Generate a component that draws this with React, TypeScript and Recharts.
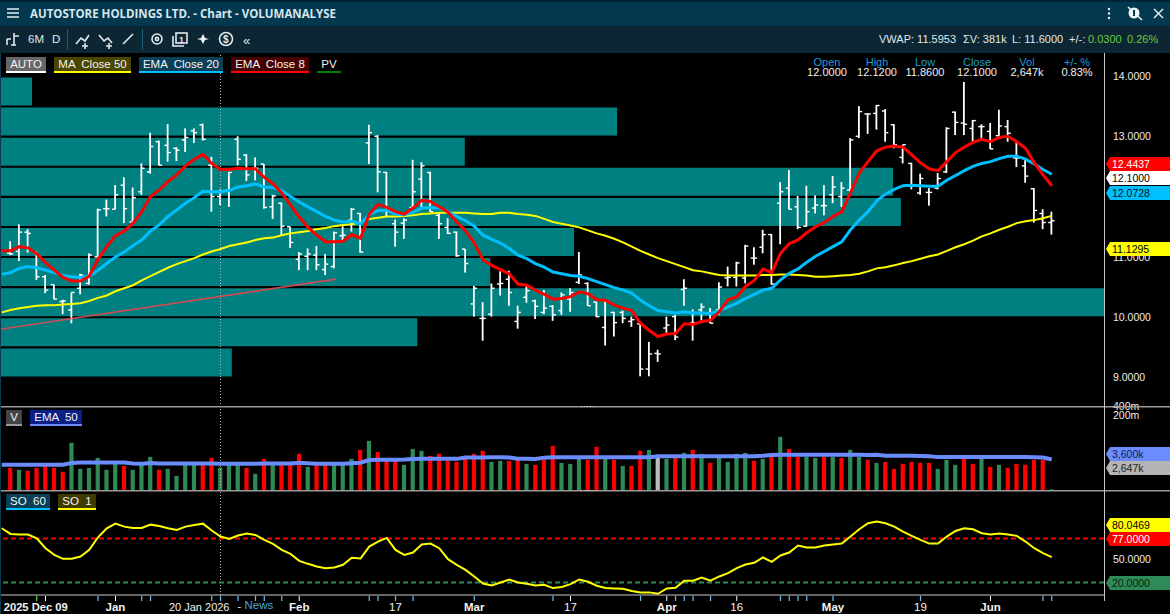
import React from "react";
import { ComposedChart, BarChart, Bar, Line, XAxis, YAxis, ReferenceLine, Cell } from "recharts";

const FONT = '"Liberation Sans", Arial, sans-serif';

const highs = [11.26,11.54,11.46,11.09,10.70,10.54,10.29,10.41,10.72,11.06,11.80,11.95,12.19,12.32,12.15,12.55,13.06,12.93,13.20,12.82,13.13,13.13,13.21,12.66,12.12,12.41,13.00,12.70,12.65,12.54,12.03,11.90,11.50,11.08,11.14,11.18,11.05,11.42,11.51,11.81,
11.73,13.19,13.02,12.41,11.62,11.64,12.61,12.57,12.41,11.72,11.64,11.42,11.13,10.52,10.25,10.56,10.76,10.77,10.19,10.51,10.29,10.45,10.20,10.41,10.48,11.08,10.58,10.26,10.30,10.09,10.11,10.01,9.90,9.59,9.46,10.01,10.04,10.63,10.13,10.23,
10.15,10.58,10.84,10.92,11.20,11.16,11.45,11.38,12.24,12.44,12.01,12.18,12.02,12.19,12.34,12.24,12.97,13.50,13.38,13.52,13.45,13.20,12.86,12.56,12.38,12.14,12.39,13.15,13.41,13.90,13.27,13.20,13.22,13.44,13.27,12.91,12.64,12.14,11.79,11.75];
const lows = [11.03,10.93,11.07,10.62,10.40,10.30,10.05,9.90,10.38,10.54,10.99,11.67,11.79,11.56,11.57,12.03,12.38,12.52,12.58,12.59,12.74,12.89,12.93,11.75,11.86,11.83,12.52,12.26,12.27,11.80,11.63,11.36,11.15,10.78,10.78,10.78,10.70,10.81,11.28,11.42,
11.07,12.54,12.07,11.67,11.17,11.30,11.81,11.81,11.75,11.30,11.38,11.00,10.74,10.01,9.61,10.01,10.36,10.19,9.81,10.24,9.97,10.05,9.94,10.04,10.09,10.55,10.19,10.00,9.53,9.68,9.90,9.84,9.02,9.02,9.26,9.74,9.62,10.19,9.61,9.90,
9.90,10.04,10.51,10.51,10.56,10.87,11.06,10.54,11.21,11.79,11.46,11.50,11.72,11.69,11.89,11.83,12.08,12.97,13.04,13.11,12.91,12.80,12.55,12.12,12.03,11.85,12.12,12.39,13.02,13.02,12.91,12.94,12.79,13.00,12.91,12.49,12.23,11.57,11.46,11.37];
const opens = [11.06,11.09,11.41,11.07,10.67,10.54,10.26,10.12,10.48,10.56,11.00,11.80,11.79,12.19,11.58,12.08,12.41,12.91,12.85,12.80,12.94,13.09,13.19,12.52,12.00,12.11,12.95,12.69,12.47,12.54,11.83,11.89,11.50,10.96,11.01,11.03,10.79,10.84,11.35,11.61,
11.72,12.89,13.00,12.40,11.55,11.56,11.82,12.29,12.40,11.69,11.49,11.41,11.13,10.22,9.98,10.05,10.55,10.63,9.93,10.33,10.27,10.08,10.18,10.11,10.30,10.58,10.56,10.25,9.83,10.08,10.08,9.93,9.89,9.14,9.40,9.82,10.01,10.46,9.90,10.12,
9.93,10.12,10.65,10.66,10.65,10.98,11.16,11.37,11.89,12.14,11.83,11.51,11.81,11.85,12.03,12.00,12.11,13.00,13.37,13.38,13.42,13.19,12.65,12.55,12.06,12.07,12.14,12.41,13.40,13.22,13.13,13.16,13.08,13.01,13.16,12.64,12.51,12.13,11.72,11.57];
const closes = [11.05,11.41,11.39,10.67,10.45,10.30,10.27,10.41,10.70,11.03,11.78,11.80,12.03,11.80,11.98,12.47,12.83,12.52,12.73,12.77,12.98,13.06,12.95,12.00,12.10,12.40,12.62,12.36,12.47,11.82,12.01,11.51,11.24,11.05,11.05,10.87,10.88,11.40,11.36,11.79,
11.08,13.06,12.41,11.81,11.41,11.61,12.08,12.51,11.75,11.55,11.39,11.02,10.89,10.48,9.98,10.48,10.56,10.41,10.08,10.44,10.18,10.15,10.04,10.37,10.41,10.70,10.19,10.01,10.26,9.91,9.98,9.96,9.14,9.39,9.39,9.87,9.67,10.48,9.91,10.17,
9.90,10.50,10.66,10.90,11.18,10.98,11.37,10.55,12.08,11.79,11.49,11.75,11.86,11.85,12.16,12.14,12.94,13.41,13.37,13.51,13.06,12.86,12.86,12.19,12.30,12.07,12.30,13.13,13.23,13.20,13.26,13.16,12.79,13.17,13.05,12.64,12.34,11.77,11.57,11.60];

// Moving averages start one session before the first visible bar
const ema8 = [11.10,11.10,11.17,11.15,11.05,10.91,10.78,10.66,10.60,10.60,10.68,10.96,11.17,11.35,11.43,11.56,11.75,12.00,12.11,12.25,12.36,12.51,12.62,12.70,12.55,12.45,12.45,12.47,12.46,12.46,12.32,12.21,12.06,11.86,11.66,11.49,11.36,11.25,11.25,11.26,11.37,
11.31,11.71,11.87,11.82,11.75,11.71,11.81,11.94,11.92,11.83,11.74,11.58,11.43,11.23,10.95,10.86,10.79,10.72,10.55,10.53,10.45,10.38,10.30,10.31,10.34,10.42,10.39,10.29,10.28,10.20,10.15,10.11,9.90,9.78,9.68,9.72,9.73,9.89,9.88,9.93,
9.95,10.09,10.29,10.34,10.51,10.61,10.80,10.74,11.06,11.22,11.28,11.40,11.50,11.57,11.67,11.75,12.06,12.39,12.58,12.76,12.82,12.84,12.82,12.69,12.56,12.46,12.43,12.58,12.73,12.82,12.90,12.95,12.91,12.98,13.00,12.91,12.80,12.56,12.36,12.18];
const ema20 = [10.71,10.74,10.81,10.84,10.82,10.78,10.74,10.69,10.67,10.66,10.68,10.78,10.89,11.00,11.08,11.19,11.28,11.43,11.53,11.67,11.78,11.89,11.98,12.09,12.08,12.08,12.10,12.16,12.18,12.21,12.16,12.15,12.10,12.00,11.91,11.83,11.75,11.67,11.61,11.58,11.59,
11.55,11.70,11.77,11.77,11.71,11.70,11.74,11.81,11.82,11.81,11.75,11.67,11.60,11.51,11.36,11.29,11.23,11.14,11.03,10.97,10.89,10.83,10.75,10.72,10.69,10.68,10.64,10.59,10.54,10.49,10.45,10.40,10.28,10.19,10.11,10.09,10.07,10.09,10.07,10.07,
10.06,10.11,10.17,10.23,10.31,10.38,10.45,10.48,10.62,10.73,10.80,10.91,11.01,11.09,11.17,11.25,11.45,11.61,11.75,11.93,12.04,12.12,12.18,12.19,12.18,12.17,12.17,12.27,12.35,12.43,12.50,12.55,12.58,12.63,12.67,12.67,12.62,12.54,12.45,12.37];
const ma50 = [10.08,10.12,10.15,10.17,10.19,10.20,10.20,10.21,10.22,10.23,10.27,10.32,10.36,10.43,10.48,10.53,10.61,10.68,10.75,10.82,10.88,10.93,10.98,11.04,11.09,11.13,11.18,11.21,11.24,11.28,11.31,11.32,11.36,11.39,11.41,11.43,11.46,11.48,11.51,11.53,11.54,
11.57,11.63,11.65,11.67,11.67,11.68,11.69,11.71,11.72,11.73,11.73,11.73,11.73,11.72,11.71,11.71,11.73,11.73,11.71,11.70,11.68,11.63,11.58,11.55,11.52,11.49,11.44,11.39,11.35,11.30,11.24,11.17,11.10,11.04,10.98,10.93,10.88,10.83,10.78,10.76,
10.73,10.70,10.69,10.69,10.69,10.69,10.70,10.70,10.71,10.71,10.70,10.69,10.67,10.67,10.68,10.69,10.70,10.72,10.76,10.81,10.83,10.86,10.90,10.93,10.97,11.01,11.04,11.10,11.16,11.21,11.27,11.34,11.39,11.45,11.50,11.56,11.59,11.61,11.64,11.68];
const so1 = [90.4,83.0,82.2,82.2,77.4,64.5,55.8,50.7,50.7,53.7,62.3,78.7,90.4,96.4,92.5,90.8,90.8,95.1,93.4,90.4,88.2,92.5,94.7,96.4,87.4,79.6,76.6,80.9,83.5,81.7,75.3,70.1,62.3,57.1,48.1,44.2,40.7,38.6,39.4,42.9,52.0,51.1,66.6,73.1,77.9,62.3,
55.8,58.9,69.2,70.5,64.5,50.2,42.9,36.4,27.8,18.7,16.1,20.0,23.9,20.0,18.3,16.1,17.0,12.7,14.0,17.8,23.9,20.9,15.7,12.7,12.2,11.8,8.8,7.1,7.1,5.3,12.2,13.1,22.2,22.2,26.5,22.2,27.8,32.1,38.6,43.3,45.5,52.4,46.8,
55.0,58.9,67.9,65.3,65.3,67.9,69.2,70.5,79.6,89.1,96.9,99.0,96.9,92.5,86.1,80.5,75.3,70.5,70.5,79.6,86.9,90.4,89.1,83.9,82.2,83.5,82.2,80.5,73.1,64.5,58.0,52.8];
const volumes = [2591,2198,2024,2591,2990,2591,1865,20300,2386,2591,5890,2198,3600,3054,2198,3316,6400,2198,2386,1342,3316,3316,3316,5890,2647,3316,3316,2591,1582,5430,3316,3316,3316,8190,2813,3316,3316,3316,3316,5430,
11400,23800,9650,4607,4607,3316,12350,10480,6950,8190,4607,4243,6950,8190,10480,4243,4607,4607,5430,3600,3316,5000,15840,3908,3600,5430,5000,14590,5430,5000,3054,3054,10480,11400,5890,5430,5890,8890,11400,8190,
3908,5890,4243,8190,8890,4607,5430,8890,33100,12350,6400,6400,5890,6400,6400,5890,11400,6400,5000,3908,4243,2386,3600,4243,3908,3908,2386,5000,3316,5430,3600,5430,2813,3316,2591,3600,3316,5000,5000,440];
const volDirections = "rgrrrrrggg" + "gggrgggrgg" + "ggrrgggrgr" + "grrrgrrggg" + "rgrrrgggrr" + "rrrrrggrrg" + "rrrgggrrgr" + "grrgngrgrg" + "rggggrgrgr" + "rggrgrggrg" + "rrrrrrgggr" + "rgrgrrrrrg";
const volEma = [3316,3316,3316,3316,3316,3316,3330,3340,3900,4050,4060,4060,4050,4050,4050,3700,3650,3825,3700,3700,3720,3700,3680,3700,3720,3600,3620,3640,3650,3660,3680,3680,3690,3700,3950,3750,3650,3640,3650,3660,3800,3950,4900,5000,5000,5000,
5100,5400,5430,5430,5430,5430,5430,6100,6100,6100,6150,6150,6100,5500,5430,5400,6000,6150,6150,6150,6150,6150,6150,6150,6150,6150,6150,6150,6200,6700,6700,6700,6700,6700,6700,6700,6700,6700,6700,6700,6700,7000,
7500,7550,7550,7550,7550,7550,7550,7550,7550,7550,7550,7500,7550,7000,7000,7000,6950,6800,6700,6260,6260,6260,6260,6260,6260,6260,6300,6260,6260,6260,6200,6100,5180];

const pvBins = ["13.5-14.0","13.0-13.5","12.5-13.0","12.0-12.5","11.5-12.0","11.0-11.5","10.5-11.0","10.0-10.5","9.5-10.0","9.0-9.5"];
const pvShares = [2.9,55.9,42.1,80.9,81.6,52.0,44.4,100,37.8,21.0];

const priceTicks = [9, 10, 11, 12, 13, 14];
const monthTicks = new Map<number, string>([[12,"Jan"],[33,"Feb"],[44,"17"],[53,"Mar"],[64,"17"],[75,"Apr"],[83,"16"],[94,"May"],[104,"19"],[112,"Jun"]]);
const whiteTicks = [4,12,33,44,53,64,75,83,94,104,112];
const newsTicks = [10,15,16,23,24,26,28,29,31,41,42,44,46,53,62,72,76,77,78,80,88,89,90,91,94,104,118,119];
const legendPrice = [
  { t: "AUTO", x: 6, w: 40, bg: "#666666", c: "#ffffff" },
  { t: "MA  Close 50", x: 54, w: 77, bg: "#4a4600", c: "#ffff00" },
  { t: "EMA  Close 20", x: 139, w: 84, bg: "#0a3f55", c: "#00bfff" },
  { t: "EMA  Close 8", x: 231, w: 78, bg: "#470000", c: "#ff0000" },
  { t: "PV", x: 317, w: 24, bg: "#000000", c: "#008000" },
];
const legendVol = [
  { t: "V", x: 6, w: 16, bg: "#444444", c: "#999999" },
  { t: "EMA  50", x: 30, w: 52, bg: "#0a2088", c: "#6a8cff" },
];
const legendSo = [
  { t: "SO  60", x: 6, w: 44, bg: "#0a3f55", c: "#00bfff" },
  { t: "SO  1", x: 58, w: 38, bg: "#3e3a00", c: "#ffff00" },
];
const quoteCols = [
  { h: "Open", v: "12.0000", x: 827 },
  { h: "High", v: "12.1200", x: 877 },
  { h: "Low", v: "11.8600", x: 925 },
  { h: "Close", v: "12.1000", x: 977 },
  { h: "Vol", v: "2,647k", x: 1027 },
  { h: "+/- %", v: "0.83%", x: 1077 },
];
const tags = [
  { t: "12.4437", y: 164, bg: "#ff0000", c: "#ffffff" },
  { t: "12.1000", y: 178, bg: "#ffffff", c: "#000000" },
  { t: "12.0728", y: 193, bg: "#00bfff", c: "#001020" },
  { t: "11.1295", y: 249, bg: "#ffff00", c: "#000000" },
  { t: "3,600k", y: 454, bg: "#6a8cff", c: "#12204a" },
  { t: "2,647k", y: 468, bg: "#b4b4b4", c: "#222222" },
  { t: "80.0469", y: 525, bg: "#ffff00", c: "#000000" },
  { t: "77.0000", y: 539, bg: "#ff0000", c: "#ffffff" },
  { t: "20.0000", y: 583, bg: "#2e8b57", c: "#06220f" },
];

const rows = ema8.map((e8, k) => {
  const i = k - 1;
  return {
    i,
    e8,
    e20: ema20[k],
    ma: ma50[k],
    so: so1[k],
    ve: volEma[k],
    h: i >= 0 ? highs[i] : null,
    l: i >= 0 ? lows[i] : null,
    o: i >= 0 ? opens[i] : null,
    c: i >= 0 ? closes[i] : null,
    v: i >= 0 ? volumes[i] : null,
    d: i >= 0 ? volDirections[i] : "",
  };
});
const pvRows = pvBins.map((bin, k) => ({ bin, share: pvShares[k] }));
const volColor: Record<string, string> = { r: "#ff0000", g: "#2e8b57", n: "#bdbdbd" };

const xDomain: [number, number] = [-1.2, 124.97];
const allTicks = Array.from(new Set([3, ...whiteTicks, ...newsTicks])).sort((a, b) => a - b);

function OhlcShape(props: any) {
  const { x, y, width, height, payload } = props;
  if (payload == null || payload.h == null || height == null) return null;
  const cx = x + width / 2;
  const span = payload.h - payload.l || 1;
  const yo = y + ((payload.h - payload.o) / span) * height;
  const yc = y + ((payload.h - payload.c) / span) * height;
  return (
    <g fill="#ffffff">
      <rect x={cx - 0.9} y={y} width={1.8} height={height} />
      <rect x={cx - 3.2} y={yo - 0.7} width={3.2} height={1.4} />
      <rect x={cx} y={yc - 0.7} width={3.2} height={1.4} />
    </g>
  );
}

function DateTick(props: any) {
  const { x, y, payload } = props;
  const i = payload.value as number;
  const isWhite = whiteTicks.includes(i);
  const isNews = newsTicks.includes(i);
  const label = monthTicks.get(i);
  const bold = label != null && /[A-Za-z]/.test(label);
  return (
    <g>
      {isNews && <line x1={x} x2={x} y1={y + 1} y2={y + 6} stroke="#66c4f5" strokeWidth={1.2} />}
      {isWhite && !isNews && <line x1={x} x2={x} y1={y + 1} y2={y + 6} stroke="#ffffff" strokeWidth={1} />}
      {i === 3 && <line x1={x} x2={x} y1={y + 1} y2={y + 6} stroke="#66e04a" strokeWidth={1.2} />}
      {label && (
        <text x={x} y={y + 16} textAnchor="middle" fill="#f2f2f2" fontSize={11.5} fontWeight={bold ? 700 : 400} fontFamily={FONT}>
          {label}
        </text>
      )}
      {i === 3 && (
        <text x={x - 1} y={y + 16} textAnchor="middle" fill="#f2f2f2" fontSize={11.2} fontWeight={700} fontFamily={FONT}>
          2025 Dec 09
        </text>
      )}
      {i === 24 && (
        <>
          <text x={x + 9} y={y + 16} textAnchor="end" fill="#f2f2f2" fontSize={11} fontFamily={FONT}>
            20 Jan 2026
          </text>
          <text x={x + 17} y={y + 15} fill="#f2f2f2" fontSize={11} fontFamily={FONT}>-</text>
          <text x={x + 24} y={y + 14} fill="#4aa8dc" fontSize={11.5} fontFamily={FONT}>News</text>
        </>
      )}
    </g>
  );
}

function Badge({ item, y, h }: { item: any; y: number; h: number }) {
  return (
    <g>
      <rect x={item.x} y={y} width={item.w} height={h} fill={item.bg} />
      <rect x={item.x} y={y + h - 1} width={item.w} height={2} fill={item.c} />
      <text x={item.x + item.w / 2} y={y + h - 4} textAnchor="middle" fill="#f4f4f4" fontSize={11.5} xmlSpace="preserve" fontFamily={FONT}>
        {item.t}
      </text>
    </g>
  );
}

const ic = { stroke: "#dfe9ee", strokeWidth: 1.6, fill: "none" };

function Chrome() {
  return (
    <svg width={1170} height={614} style={{ position: "absolute", left: 0, top: 0, zIndex: 5, pointerEvents: "none" }}>
      {/* pane frames */}
      <rect x={0} y={406} width={1170} height={1.5} fill="#9a9a9a" />
      <rect x={0} y={490} width={1170} height={1.5} fill="#9a9a9a" />
      <rect x={1104} y={53} width={1} height={548} fill="#c8c8c8" />
      <rect x={0} y={0} width={1} height={614} fill="#0b3a50" />
      <line x1={581} x2={595} y1={406.5} y2={406.5} stroke="#e0e0e0" strokeWidth={1} strokeDasharray="1 2" />
      <line x1={581} x2={595} y1={490.5} y2={490.5} stroke="#e0e0e0" strokeWidth={1} strokeDasharray="1 2" />

      {legendPrice.map((b) => <Badge key={b.t} item={b} y={57} h={15} />)}
      {legendVol.map((b) => <Badge key={b.t} item={b} y={410} h={15} />)}
      {legendSo.map((b) => <Badge key={b.t} item={b} y={494} h={15} />)}

      {quoteCols.map((q) => (
        <g key={q.h} fontFamily={FONT} textAnchor="middle" fontSize={11}>
          <text x={q.x} y={66} fill="#1f9bd4">{q.h}</text>
          <text x={q.x} y={76} fill="#f0f0f0">{q.v}</text>
        </g>
      ))}

      {tags.map((t) => (
        <g key={t.t}>
          <polygon points={`1106,${t.y} 1110,${t.y - 7} 1170,${t.y - 7} 1170,${t.y + 7} 1110,${t.y + 7}`} fill={t.bg} />
          <text x={1112} y={t.y + 4} fill={t.c} fontSize={10.5} fontFamily={FONT}>{t.t}</text>
        </g>
      ))}

      {/* title bar */}
      <rect x={0} y={0} width={1170} height={26} fill="#03384f" />
      <rect x={0} y={0} width={1170} height={2} fill="#012536" />
      <rect x={0} y={26} width={1170} height={27} fill="#0d2633" />
      <g stroke="#e6eef2" strokeWidth={1.5}>
        <line x1={7} x2={19} y1={9} y2={9} />
        <line x1={7} x2={19} y1={13} y2={13} />
        <line x1={7} x2={19} y1={17} y2={17} />
      </g>
      <text x={30} y={18} fill="#d6e6ee" fontSize={11.5} fontWeight={700} fontFamily='"Open Sans", sans-serif'>
        AUTOSTORE HOLDINGS LTD. - Chart - VOLUMANALYSE
      </text>
      <g fill="#e6eef2">
        <circle cx={1109} cy={9} r={1.2} />
        <circle cx={1109} cy={13.5} r={1.2} />
        <circle cx={1109} cy={18} r={1.2} />
      </g>
      <circle cx={1134} cy={13} r={5.5} fill="#eef4f7" />
      <line x1={1128} y1={7} x2={1142} y2={20} stroke="#eef4f7" strokeWidth={1.6} />
      <rect x={1133} y={10} width={2} height={6} fill="#03384f" />
      <g stroke="#e6eef2" strokeWidth={1.4}>
        <line x1={1154} y1={9} x2={1163} y2={18} />
        <line x1={1163} y1={9} x2={1154} y2={18} />
      </g>

      {/* toolbar */}
      <g {...ic}>
        <path d="M7 45 V39 M7 39 H11 M11 45 H16 M14 33 V45 M14 36 H19" />
        <path d="M76 44 L81 38 L85 41 L89 35" />
        <path d="M82 46 h6 M85 43 v6" />
        <path d="M99 35 L104 41 L108 38 L112 43" />
        <path d="M106 46 h6 M109 43 v6" />
        <line x1={123} y1={44} x2={133} y2={34} />
        <circle cx={157} cy={39} r={5} />
        <circle cx={157} cy={39} r={1.6} />
        <rect x={176} y={33} width={11} height={10} />
        <path d="M173 36 V46 H184" />
        <circle cx={226} cy={39} r={6.5} />
      </g>
      <rect x={67} y={29} width={1} height={21} fill="#1b5d7c" />
      <rect x={142} y={29} width={1} height={21} fill="#1b5d7c" />
      <polygon points="203,34 205,38 209,39 205,40 203,44 201,40 197,39 201,38" fill="#eef4f7" />
      <g fontFamily={FONT} fill="#dfe9ee">
        <text x={28} y={43} fontSize={11.5}>6M</text>
        <text x={52} y={43} fontSize={11.5}>D</text>
        <text x={179} y={43} fontSize={9} fontWeight={700}>1</text>
        <text x={223} y={43} fontSize={10} fontWeight={700}>$</text>
        <text x={243} y={45} fontSize={13}>«</text>
        <text x={879} y={43} fontSize={11}>VWAP: 11.5953</text>
        <text x={963} y={43} fontSize={11}>ΣV: 381k</text>
        <text x={1012} y={43} fontSize={11}>L: 11.6000</text>
        <text x={1069} y={43} fontSize={11}>+/-:</text>
        <text x={1088} y={43} fontSize={11} fill="#6ec63f">0.0300</text>
        <text x={1127} y={43} fontSize={11} fill="#6ec63f">0.26%</text>
      </g>
    </svg>
  );
}

export default function App() {
  React.useEffect(() => {
    document.body.style.margin = "0";
    document.body.style.background = "#000";
  }, []);
  const axisTick = { fill: "#ececec", fontSize: 10.5, fontFamily: FONT };
  return (
    <div style={{ position: "absolute", left: 0, top: 0, width: 1170, height: 614, background: "#000", overflow: "hidden" }}>
      {/* Price-volume profile */}
      <div style={{ position: "absolute", left: 0, top: 53, zIndex: 1 }}>
        <BarChart width={1104} height={354} data={pvRows} layout="vertical" margin={{ top: 23.5, right: 0, bottom: 29.5, left: 0 }}>
          <XAxis type="number" domain={[0, 100]} hide />
          <YAxis type="category" dataKey="bin" hide />
          <Bar dataKey="share" fill="#008080" barSize={28} isAnimationActive={false} />
        </BarChart>
      </div>

      {/* Price */}
      <div style={{ position: "absolute", left: 0, top: 53, zIndex: 2 }}>
        <ComposedChart width={1170} height={354} data={rows} margin={{ top: 0, right: 0, bottom: 0, left: 0 }}>
          <XAxis type="number" dataKey="i" domain={xDomain} allowDataOverflow hide />
          <YAxis
            orientation="right"
            width={66}
            domain={[8.511, 14.381]}
            allowDataOverflow
            ticks={priceTicks}
            tickFormatter={(v: number) => v.toFixed(4)}
            tick={axisTick}
            tickLine={false}
            axisLine={false}
            tickMargin={9}
            tickSize={0}
          />
          <ReferenceLine x={24} stroke="#b5b5b5" strokeDasharray="1 2" />
          <ReferenceLine
            segment={[{ x: -1.2, y: 9.8 }, { x: 37.2, y: 10.63 }]}
            stroke="#e2474f"
            strokeWidth={1.7}
            strokeOpacity={0.9}
            ifOverflow="visible"
          />
          <Bar dataKey={(r: any) => (r.h == null ? null : [r.l, r.h])} barSize={2} shape={OhlcShape} isAnimationActive={false} />
          <Line dataKey="ma" stroke="#ffff00" strokeWidth={2} dot={false} isAnimationActive={false} />
          <Line dataKey="e20" stroke="#00bfff" strokeWidth={3} dot={false} isAnimationActive={false} />
          <Line dataKey="e8" stroke="#ff0000" strokeWidth={3} dot={false} isAnimationActive={false} />
        </ComposedChart>
      </div>

      {/* Volume */}
      <div style={{ position: "absolute", left: 0, top: 400, zIndex: 3 }}>
        <ComposedChart width={1170} height={91} data={rows} margin={{ top: 0, right: 0, bottom: 0, left: 0 }}>
          <XAxis type="number" dataKey="i" domain={xDomain} allowDataOverflow hide />
          <YAxis
            orientation="right"
            width={66}
            scale="log"
            domain={[386, 687000]}
            allowDataOverflow
            ticks={[400000, 200000]}
            interval={0}
            tickFormatter={(v: number) => `${v / 1000}m`}
            tick={axisTick}
            tickLine={false}
            axisLine={false}
            tickMargin={9}
            tickSize={0}
          />
          <ReferenceLine x={24} stroke="#b5b5b5" strokeDasharray="1 2" />
          <Bar dataKey="v" barSize={4.2} isAnimationActive={false}>
            {rows.map((r) => <Cell key={r.i} fill={volColor[r.d] ?? "none"} />)}
          </Bar>
          <Line dataKey="ve" stroke="#6a8cff" strokeWidth={4} dot={false} isAnimationActive={false} />
        </ComposedChart>
      </div>

      {/* Stochastic */}
      <div style={{ position: "absolute", left: 0, top: 491, zIndex: 3 }}>
        <ComposedChart width={1170} height={123} data={rows} margin={{ top: 0, right: 0, bottom: 0, left: 0 }}>
          <XAxis
            type="number"
            dataKey="i"
            domain={xDomain}
            allowDataOverflow
            ticks={allTicks}
            interval={0}
            height={19}
            tick={DateTick}
            tickLine={false}
            tickSize={0}
            tickMargin={0}
            axisLine={{ stroke: "#c8c8c8", strokeWidth: 1 }}
          />
          <YAxis
            orientation="right"
            width={66}
            domain={[3.7, 138.8]}
            allowDataOverflow
            ticks={[50]}
            tickFormatter={(v: number) => v.toFixed(4)}
            tick={axisTick}
            tickLine={false}
            axisLine={false}
            tickMargin={9}
            tickSize={0}
          />
          <ReferenceLine x={24} stroke="#b5b5b5" strokeDasharray="1 2" />
          <ReferenceLine y={77} stroke="#ff0000" strokeWidth={2} strokeDasharray="5 3" />
          <ReferenceLine y={20} stroke="#2e8b57" strokeWidth={2} strokeDasharray="5 3" />
          <Line dataKey="so" stroke="#ffff00" strokeWidth={2} dot={false} isAnimationActive={false} />
        </ComposedChart>
      </div>

      <Chrome />
    </div>
  );
}
